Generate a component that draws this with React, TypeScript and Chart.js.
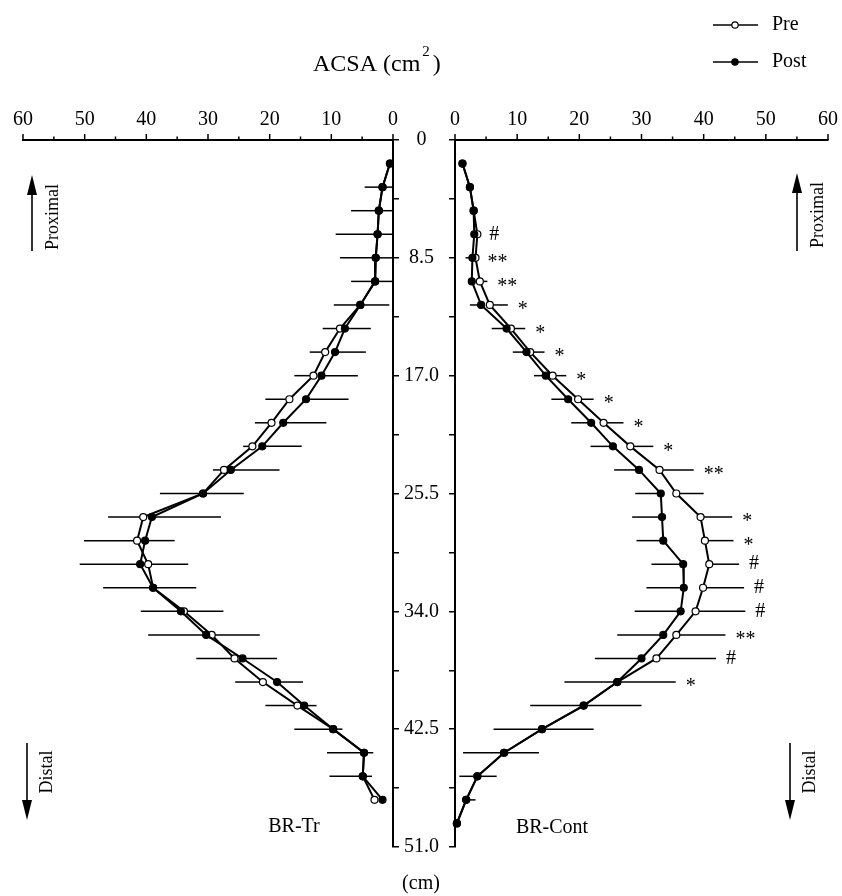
import React, { useEffect, useRef } from 'react';
import { Chart, registerables } from 'chart.js';

Chart.register(...registerables);

const FONT = "'Liberation Serif', 'Times New Roman', serif";

// Depth axis (cm)
const depthTicks = [0, 4.25, 8.5, 12.75, 17, 21.25, 25.5, 29.75, 34, 38.25, 42.5, 46.75, 51];
const depthTickLabels = ['0', '', '8.5', '', '17.0', '', '25.5', '', '34.0', '', '42.5', '', '51.0'];

// ACSA axis (cm^2)
const acsaTicks = [0, 5, 10, 15, 20, 25, 30, 35, 40, 45, 50, 55, 60];
const acsaTickLabels = ['0', '', '10', '', '20', '', '30', '', '40', '', '50', '', '60'];

// BR-Tr (left panel)
const trDepths = [1.7, 3.4, 5.1, 6.8, 8.5, 10.2, 11.9, 13.6, 15.3, 17.0, 18.7, 20.4, 22.1, 23.8, 25.5, 27.2, 28.9, 30.6, 32.3, 34.0, 35.7, 37.4, 39.1, 40.8, 42.5, 44.2, 45.9, 47.6];
const trPre = [0.5, 1.7, 2.3, 2.5, 2.8, 2.9, 5.3, 8.6, 11.0, 12.9, 16.8, 19.7, 22.8, 27.4, 30.8, 40.5, 41.5, 39.7, 38.9, 33.9, 29.4, 25.7, 21.1, 15.5, 9.7, 4.7, 4.9, 3.0];
const trPost = [0.5, 1.7, 2.3, 2.5, 2.8, 2.9, 5.3, 7.8, 9.4, 11.6, 14.1, 17.8, 21.2, 26.3, 30.8, 39.1, 40.2, 41.0, 38.9, 34.4, 30.3, 24.4, 18.8, 14.4, 9.7, 4.7, 4.9, 1.7];
const trPreSD = [0, 2.9, 4.5, 6.8, 5.8, 3.9, 4.3, 2.8, 2.5, 3.1, 3.9, 2.7, 1.5, 1.8, 7.0, 5.7, 8.6, 11.1, 8.1, 7.0, 10.3, 6.2, 4.5, 5.2, 6.3, 6.0, 5.4, 0];
const trPostSD = [0, 2.5, 3.0, 3.0, 3.0, 3.0, 4.7, 4.2, 5.0, 5.9, 6.9, 7.0, 6.4, 7.9, 6.6, 11.2, 4.8, 7.8, 7.0, 6.9, 8.7, 5.6, 4.2, 2.0, 1.5, 1.5, 1.5, 0];

// BR-Cont (right panel)
const contDepths = [1.7, 3.4, 5.1, 6.8, 8.5, 10.2, 11.9, 13.6, 15.3, 17.0, 18.7, 20.4, 22.1, 23.8, 25.5, 27.2, 28.9, 30.6, 32.3, 34.0, 35.7, 37.4, 39.1, 40.8, 42.5, 44.2, 45.9, 47.6, 49.3];
const contPre = [1.2, 2.4, 3.0, 3.6, 3.3, 4.0, 5.6, 9.0, 12.1, 15.7, 19.8, 23.9, 28.2, 32.9, 35.6, 39.5, 40.2, 40.9, 39.9, 38.7, 35.6, 32.4, 26.1, 20.7, 14.0, 7.9, 3.6, 1.8, 0.3];
const contPost = [1.2, 2.4, 3.0, 3.1, 2.8, 2.7, 4.2, 8.3, 11.5, 14.6, 18.2, 21.9, 25.4, 29.6, 33.1, 33.3, 33.5, 36.7, 36.8, 36.3, 33.5, 30.0, 26.1, 20.7, 14.0, 7.9, 3.6, 1.8, 0.3];
const contPreSD = [0.3, 0.5, 0.6, 0.3, 0.3, 1.2, 2.9, 2.3, 2.3, 2.2, 2.5, 3.2, 3.7, 5.5, 4.4, 5.1, 4.6, 4.8, 6.6, 8.0, 7.9, 9.6, 9.4, 9.3, 8.3, 5.6, 3.1, 1.5, 0];
const contPostSD = [0.3, 0.5, 0.6, 0.3, 1.1, 0.3, 1.8, 2.4, 2.2, 1.9, 2.7, 3.2, 3.6, 4.0, 4.1, 4.8, 4.3, 5.1, 6.0, 7.4, 7.4, 7.5, 8.5, 8.6, 7.8, 6.6, 2.9, 0.6, 0];
const contMarks = ['', '', '', '#', '**', '**', '*', '*', '*', '*', '*', '*', '*', '**', '', '*', '*', '#', '#', '#', '**', '#', '*', '', '', '', '', '', ''];

type Side = 'left' | 'right';

function drawArrow(ctx: CanvasRenderingContext2D, x: number, yFrom: number, yTo: number) {
  const dir = yTo < yFrom ? -1 : 1;
  const headLen = 20;
  ctx.save();
  ctx.strokeStyle = '#000';
  ctx.fillStyle = '#000';
  ctx.lineWidth = 1.6;
  ctx.beginPath();
  ctx.moveTo(x, yFrom);
  ctx.lineTo(x, yTo - dir * headLen * 0.6);
  ctx.stroke();
  ctx.beginPath();
  ctx.moveTo(x, yTo);
  ctx.lineTo(x - 5, yTo - dir * headLen);
  ctx.lineTo(x + 5, yTo - dir * headLen);
  ctx.closePath();
  ctx.fill();
  ctx.restore();
}

function rotatedText(ctx: CanvasRenderingContext2D, text: string, x: number, y: number, size: number) {
  ctx.save();
  ctx.translate(x, y);
  ctx.rotate(-Math.PI / 2);
  ctx.font = `${size}px ${FONT}`;
  ctx.fillStyle = '#000';
  ctx.textAlign = 'center';
  ctx.textBaseline = 'middle';
  ctx.fillText(text, 0, 0);
  ctx.restore();
}

function buildConfig(side: Side): any {
  const isLeft = side === 'left';
  const depths = isLeft ? trDepths : contDepths;
  const pre = isLeft ? trPre : contPre;
  const post = isLeft ? trPost : contPost;
  const preSD = isLeft ? trPreSD : contPreSD;
  const postSD = isLeft ? trPostSD : contPostSD;

  const errorBars = {
    id: 'errorBars_' + side,
    beforeDatasetsDraw(chart: any) {
      const { ctx, scales } = chart;
      const x = scales.x;
      const y = scales.y;
      ctx.save();
      ctx.strokeStyle = '#000';
      ctx.lineWidth = 1.5;
      for (let i = 0; i < depths.length; i++) {
        const py = y.getPixelForValue(depths[i]);
        const a = Math.min(60, pre[i] + preSD[i]);
        const b = Math.max(0, post[i] - postSD[i]);
        if (preSD[i] > 0) {
          ctx.beginPath();
          ctx.moveTo(x.getPixelForValue(pre[i]), py);
          ctx.lineTo(x.getPixelForValue(a), py);
          ctx.stroke();
        }
        if (postSD[i] > 0) {
          ctx.beginPath();
          ctx.moveTo(x.getPixelForValue(post[i]), py);
          ctx.lineTo(x.getPixelForValue(b), py);
          ctx.stroke();
        }
      }
      ctx.restore();
    },
    afterDatasetsDraw(chart: any) {
      if (isLeft) return;
      const { ctx, scales } = chart;
      const x = scales.x;
      const y = scales.y;
      ctx.save();
      ctx.fillStyle = '#000';
      ctx.font = `20px ${FONT}`;
      ctx.textAlign = 'left';
      ctx.textBaseline = 'middle';
      for (let i = 0; i < depths.length; i++) {
        const m = contMarks[i];
        if (!m) continue;
        const px = x.getPixelForValue(pre[i] + preSD[i]) + 10;
        const py = y.getPixelForValue(depths[i]) + (m[0] === '*' ? 5 : 0);
        ctx.fillText(m, px, py);
      }
      ctx.restore();
    },
  };

  const decor = {
    id: 'decor_' + side,
    afterDraw(chart: any) {
      const ctx: CanvasRenderingContext2D = chart.ctx;
      const xs = chart.scales.x;
      const top = chart.chartArea.top;
      ctx.save();
      // x-axis tick marks: longer for labelled (major), shorter for minor
      ctx.strokeStyle = '#000';
      ctx.lineWidth = 1.5;
      acsaTicks.forEach((v, i) => {
        const px = xs.getPixelForValue(v);
        const len = acsaTickLabels[i] ? 6 : 3.5;
        ctx.beginPath();
        ctx.moveTo(px, top);
        ctx.lineTo(px, top - len);
        ctx.stroke();
      });

      ctx.fillStyle = '#000';
      ctx.textBaseline = 'middle';
      if (isLeft) {
        ctx.font = `20px ${FONT}`;
        ctx.textAlign = 'center';
        ctx.fillText('BR-Tr', 294, 827);
        ctx.fillText('(cm)', 421, 884);
        drawArrow(ctx, 32, 251, 175);
        rotatedText(ctx, 'Proximal', 53, 217, 18);
        drawArrow(ctx, 27, 743, 820);
        rotatedText(ctx, 'Distal', 47, 772, 18);
      } else {
        ctx.font = `20px ${FONT}`;
        ctx.textAlign = 'center';
        ctx.fillText('BR-Cont', 552, 828);
        drawArrow(ctx, 797, 251, 173);
        rotatedText(ctx, 'Proximal', 818, 215, 18);
        drawArrow(ctx, 790, 743, 820);
        rotatedText(ctx, 'Distal', 810, 772, 18);

        // Title
        ctx.textAlign = 'left';
        ctx.textBaseline = 'alphabetic';
        ctx.font = `24px ${FONT}`;
        const t1 = 'ACSA (cm';
        const x0 = 313;
        ctx.fillText(t1, x0, 71);
        const w1 = ctx.measureText(t1).width;
        ctx.font = `15px ${FONT}`;
        ctx.fillText('2', x0 + w1 + 2, 56);
        const w2 = ctx.measureText('2').width;
        ctx.font = `24px ${FONT}`;
        ctx.fillText(')', x0 + w1 + w2 + 5, 71);

        // Legend
        const items = [
          { label: 'Pre', y: 25, fill: '#fff' },
          { label: 'Post', y: 62, fill: '#000' },
        ];
        for (const it of items) {
          ctx.lineWidth = 1.6;
          ctx.strokeStyle = '#000';
          ctx.beginPath();
          ctx.moveTo(713, it.y);
          ctx.lineTo(758, it.y);
          ctx.stroke();
          ctx.beginPath();
          ctx.arc(735, it.y, 3.2, 0, Math.PI * 2);
          ctx.fillStyle = it.fill;
          ctx.fill();
          ctx.lineWidth = 1.2;
          ctx.stroke();
          ctx.fillStyle = '#000';
          ctx.font = `20px ${FONT}`;
          ctx.textBaseline = 'middle';
          ctx.fillText(it.label, 772, it.y);
        }
      }
      ctx.restore();
    },
  };

  const toPts = (vals: number[]) => vals.map((v, i) => ({ x: v, y: depths[i] }));
  const tickFont = { family: FONT, size: 20 };

  return {
    type: 'scatter',
    data: {
      datasets: [
        {
          label: 'Post',
          data: toPts(post),
          showLine: true,
          borderColor: '#000',
          borderWidth: 2,
          pointRadius: 3.5,
          pointBackgroundColor: '#000',
          pointBorderColor: '#000',
          pointBorderWidth: 1.2,
          order: 0,
          clip: false,
        },
        {
          label: 'Pre',
          data: toPts(pre),
          showLine: true,
          borderColor: '#000',
          borderWidth: 2,
          pointRadius: 3.5,
          pointBackgroundColor: '#fff',
          pointBorderColor: '#000',
          pointBorderWidth: 1.2,
          order: 1,
          clip: false,
        },
      ],
    },
    options: {
      responsive: false,
      animation: false,
      events: [],
      layout: {
        padding: isLeft
          ? { left: 23, right: 389, top: 100, bottom: 49 }
          : { left: 449, right: 14, top: 100, bottom: 49 },
      },
      plugins: {
        legend: { display: false },
        tooltip: { enabled: false },
        title: { display: false },
      },
      scales: {
        x: {
          type: 'linear',
          position: 'top',
          reverse: isLeft,
          min: 0,
          max: 60,
          afterBuildTicks: (s: any) => {
            s.ticks = acsaTicks.map((v) => ({ value: v }));
          },
          afterFit: (s: any) => {
            s.height = 40;
            s.paddingLeft = 0;
            s.paddingRight = 0;
          },
          ticks: {
            callback: (_v: any, i: number) => acsaTickLabels[i],
            font: tickFont,
            color: '#000',
            padding: 8,
            maxRotation: 0,
            autoSkip: false,
          },
          grid: { drawOnChartArea: false, drawTicks: false, color: '#000', lineWidth: 1.5 },
          border: { display: true, color: '#000', width: 2 },
        },
        y: {
          type: 'linear',
          position: isLeft ? 'right' : 'left',
          reverse: true,
          min: 0,
          max: 51,
          afterBuildTicks: (s: any) => {
            s.ticks = depthTicks.map((v) => ({ value: v }));
          },
          afterFit: (s: any) => {
            s.width = isLeft ? 60 : 6;
            s.paddingTop = 0;
            s.paddingBottom = 0;
          },
          ticks: {
            display: isLeft,
            callback: (_v: any, i: number) => depthTickLabels[i],
            font: tickFont,
            color: '#000',
            padding: 5,
            crossAlign: 'center',
            autoSkip: false,
          },
          grid: { drawOnChartArea: false, tickLength: 6, color: '#000', lineWidth: 1.5 },
          border: { display: true, color: '#000', width: 2 },
        },
      },
    },
    plugins: [errorBars, decor],
  };
}

export default function App() {
  const leftRef = useRef<HTMLCanvasElement>(null);
  const rightRef = useRef<HTMLCanvasElement>(null);

  useEffect(() => {
    const left = new Chart(leftRef.current as HTMLCanvasElement, buildConfig('left'));
    const right = new Chart(rightRef.current as HTMLCanvasElement, buildConfig('right'));
    return () => {
      left.destroy();
      right.destroy();
    };
  }, []);

  return (
    <div style={{ position: 'absolute', left: 0, top: 0, width: 842, height: 896, background: '#fff' }}>
      <canvas ref={leftRef} width={842} height={896} style={{ position: 'absolute', left: 0, top: 0, width: 842, height: 896 }} />
      <canvas ref={rightRef} width={842} height={896} style={{ position: 'absolute', left: 0, top: 0, width: 842, height: 896 }} />
    </div>
  );
}
